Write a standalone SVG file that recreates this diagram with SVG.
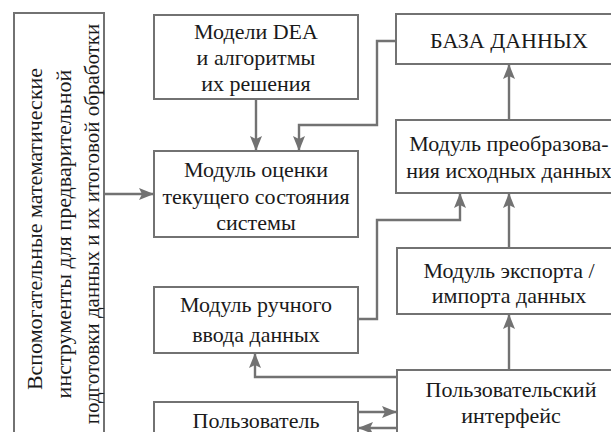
<svg xmlns="http://www.w3.org/2000/svg" width="611" height="432" viewBox="0 0 611 432">
<style>
.box{fill:#fff;stroke:#727272;stroke-width:2}
.t{font-family:"Liberation Serif","Times New Roman",serif;font-size:22px;fill:#1a1a1a;text-anchor:middle}
.c{fill:none;stroke:#727272;stroke-width:2.4}
</style>
<defs>
<marker id="ah" markerUnits="userSpaceOnUse" markerWidth="16" markerHeight="14" refX="15" refY="7" orient="auto">
<path d="M0,1 L15,7 L0,13 L3,7 Z" fill="#727272"/>
</marker>
</defs>
<rect width="611" height="432" fill="#fff"/>
<g id="tools">
<rect class="box" x="14" y="13" width="90" height="440"/>
<text class="t" transform="translate(42,229) rotate(-90)" x="0" y="0">Вспомогательные математические</text>
<text class="t" transform="translate(70.5,234) rotate(-90)" x="0" y="0">инструменты для предварительной</text>
<text class="t" transform="translate(99,224) rotate(-90)" x="0" y="0" style="font-size:21px">подготовки данных и их итоговой обработки</text>
</g>
<g id="dea">
<rect class="box" x="154" y="15" width="204" height="84"/>
<text class="t" x="256" y="39">Модели DEA</text>
<text class="t" x="256" y="65">и алгоритмы</text>
<text class="t" x="256" y="91">их решения</text>
</g>
<g id="eval">
<rect class="box" x="154" y="151" width="204" height="86"/>
<text class="t" x="256" y="177">Модуль оценки</text>
<text class="t" x="256" y="204">текущего состояния</text>
<text class="t" x="256" y="230">системы</text>
</g>
<g id="manual">
<rect class="box" x="154" y="287" width="204" height="66"/>
<text class="t" x="256" y="312">Модуль ручного</text>
<text class="t" x="256" y="342">ввода данных</text>
</g>
<g id="user">
<rect class="box" x="154" y="402" width="204" height="60"/>
<text class="t" x="256" y="428">Пользователь</text>
</g>
<g id="db">
<rect class="box" x="396" y="14" width="226" height="50"/>
<text class="t" x="509" y="48">БАЗА ДАННЫХ</text>
</g>
<g id="transform">
<rect class="box" x="396" y="120" width="226" height="73"/>
<text class="t" x="509" y="151">Модуль преобразова-</text>
<text class="t" x="509" y="178">ния исходных данных</text>
</g>
<g id="export">
<rect class="box" x="397" y="248" width="225" height="66"/>
<text class="t" x="509" y="278">Модуль экспорта /</text>
<text class="t" x="509" y="303">импорта данных</text>
</g>
<g id="ui">
<rect class="box" x="397" y="370" width="225" height="80"/>
<text class="t" x="511" y="397">Пользовательский</text>
<text class="t" x="511" y="423">интерфейс</text>
</g>
<g id="connectors">
<path class="c" d="M104,194 H154" marker-end="url(#ah)"/>
<path class="c" d="M256,99 V151" marker-end="url(#ah)"/>
<path class="c" d="M396,41 H377 V125 H299 V151" marker-end="url(#ah)"/>
<path class="c" d="M358,319 H377 V220 H460 V193" marker-end="url(#ah)"/>
<path class="c" d="M509,248 V193" marker-end="url(#ah)"/>
<path class="c" d="M509,120 V64" marker-end="url(#ah)"/>
<path class="c" d="M509,370 V314" marker-end="url(#ah)"/>
<path class="c" d="M397,377 H255 V353" marker-end="url(#ah)"/>
<path class="c" d="M358,412 H397" marker-end="url(#ah)"/>
<path class="c" d="M397,428 H358" marker-end="url(#ah)"/>
</g>
</svg>
